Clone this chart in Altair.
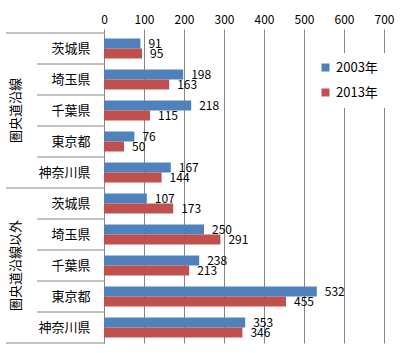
import altair as alt
import pandas as pd

groups = ["圏央道沿線", "圏央道沿線以外"]
prefs = ["茨城県", "埼玉県", "千葉県", "東京都", "神奈川県"]
series = ["2003年", "2013年"]
v2003_a = [91, 198, 218, 76, 167]
v2013_a = [95, 163, 115, 50, 144]
v2003_b = [107, 250, 238, 532, 353]
v2013_b = [173, 291, 213, 455, 346]
x_ticks = [0, 100, 200, 300, 400, 500, 600, 700]
colors = ["#4F81BD", "#C0504D"]
FONT = "Noto Sans CJK JP"
GRID = "#868686"

vals = [(v2003_a, v2013_a), (v2003_b, v2013_b)]
rows, keys = [], []
for gi, g in enumerate(groups):
    for pi, p in enumerate(prefs):
        k = f"{gi}{p}"
        keys.append(k)
        rows.append({"key": k, "series": series[0], "value": vals[gi][0][pi]})
        rows.append({"key": k, "series": series[1], "value": vals[gi][1][pi]})
df = pd.DataFrame(rows)

yscale = alt.Scale(domain=keys, paddingInner=0, paddingOuter=0)
xscale = alt.Scale(domain=[0, 700], nice=False)
xaxis = alt.Axis(orient="top", values=x_ticks, title=None, domain=False,
                 grid=True, gridColor=GRID, tickColor=GRID, tickSize=4,
                 labelOverlap=False, labelFlush=False,
                 labelFont=FONT, labelFontSize=12, labelColor="black",
                 labelPadding=3)
yaxis = alt.Axis(title=None, ticks=False, domainColor=GRID,
                 labelExpr="substring(datum.label, 1)",
                 labelFont=FONT, labelFontSize=13, labelColor="black",
                 labelPadding=14)
yoff = alt.YOffset("series:N", scale=alt.Scale(domain=series, paddingInner=0, paddingOuter=0.55))
xenc = alt.X("value:Q", scale=xscale, axis=xaxis)


def yenc(bp=0.5):
    return alt.Y("key:N", sort=keys, scale=yscale, axis=yaxis, bandPosition=bp)


bars = alt.Chart(df).mark_bar().encode(
    x=xenc,
    y=alt.Y("key:N", sort=keys, scale=yscale, axis=yaxis),
    yOffset=yoff,
    color=alt.Color("series:N", scale=alt.Scale(domain=series, range=colors),
                    legend=alt.Legend(title=None, orient="none", legendX=207, legendY=20,
                                      fillColor="white", padding=8, symbolType="square",
                                      symbolSize=64, symbolStrokeWidth=0,
                                      labelFont=FONT, labelFontSize=13,
                                      labelColor="black", rowPadding=11)),
)

labels = alt.Chart(df).mark_text(align="left", baseline="middle", dx=8,
                                 font=FONT, fontSize=12, color="black").encode(
    x=xenc,
    y=alt.Y("key:N", sort=keys, scale=yscale, axis=yaxis),
    yOffset=yoff,
    text="value:Q",
)

group_df = pd.DataFrame({"key": [f"{gi}{prefs[2]}" for gi in range(len(groups))],
                         "label": groups})
group_text = alt.Chart(group_df).mark_text(angle=270, font=FONT, fontSize=13,
                                           color="black", baseline="middle",
                                           align="center").encode(
    y=alt.Y("key:N", sort=keys, scale=yscale, axis=yaxis),
    x=alt.value(-88),
    text="label:N",
)

inner_df = pd.DataFrame({"key": [k for i, k in enumerate(keys) if i % 5 != 0]})
outer_df = pd.DataFrame({"key": [k for i, k in enumerate(keys) if i % 5 == 0]})
last_df = pd.DataFrame({"key": [keys[-1]]})

inner_rules = alt.Chart(inner_df).mark_rule(color=GRID).encode(
    y=yenc(0), x=alt.value(-67), x2=alt.value(0))
outer_rules = alt.Chart(outer_df).mark_rule(color=GRID).encode(
    y=yenc(0), x=alt.value(-98), x2=alt.value(0))
last_rule = alt.Chart(last_df).mark_rule(color=GRID).encode(
    y=yenc(1), x=alt.value(-98), x2=alt.value(0))

chart = alt.layer(bars, labels, group_text, inner_rules, outer_rules, last_rule).properties(
    width=280, height=310,
    autosize=alt.AutoSizeParams(type="none"),
    padding={"left": 104, "top": 33, "right": 18, "bottom": 10},
    background="white",
).configure_view(stroke=None)

chart.save("out.html", embed_options={"renderer": "svg", "actions": False})
